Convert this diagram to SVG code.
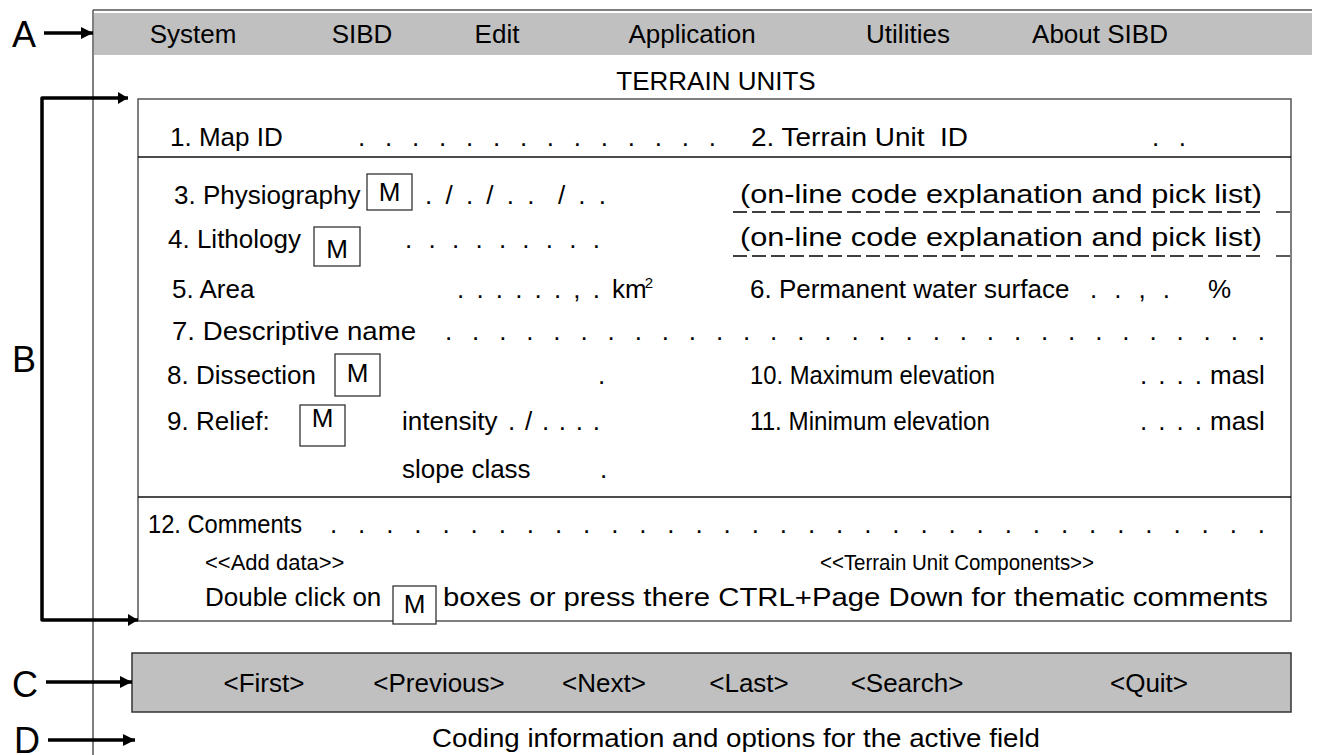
<svg xmlns="http://www.w3.org/2000/svg" width="1317" height="755" viewBox="0 0 1317 755">
  <style>
    .t { font-family: "Liberation Sans", Arial, sans-serif; font-size: 26px; fill: #000; white-space: pre; }
    .sm { font-size: 22px; }
    .lbl { font-family: "Liberation Sans", Arial, sans-serif; font-size: 36px; fill: #000; }
    .mid { text-anchor: middle; }
    .bar { fill: #c0c0c0; }
    .frame { fill: none; stroke: #555; stroke-width: 1.5; }
    .sep { stroke: #111; stroke-width: 1.5; }
    .mbox { fill: #fff; stroke: #333; stroke-width: 1.3; }
    .ptr { fill: none; stroke: #000; stroke-width: 3.5; stroke-linejoin: round; }
    .dash { stroke: #000; stroke-width: 1.3; stroke-dasharray: 14 5; }
  </style>
  <defs>
    <marker id="ah" viewBox="0 0 12 12" refX="12" refY="6" markerWidth="12" markerHeight="12" markerUnits="userSpaceOnUse" orient="auto">
      <path d="M0,0 L12,6 L0,12 z" fill="#000"/>
    </marker>
    <marker id="ahs" viewBox="0 0 10 12" refX="10" refY="6" markerWidth="10" markerHeight="12" markerUnits="userSpaceOnUse" orient="auto">
      <path d="M0,0 L10,6 L0,12 z" fill="#000"/>
    </marker>
  </defs>

  <!-- window frame: left edge and top rule -->
  <g id="window">
    <line x1="93" y1="10" x2="93" y2="755" stroke="#000" stroke-width="1"/>
    <line x1="93" y1="10" x2="1312" y2="10" stroke="#555" stroke-width="1.5"/>
  </g>

  <!-- menu bar -->
  <g id="menu">
    <rect class="bar" x="94" y="13" width="1218" height="42"/>
    <text class="t mid" x="193" y="43">System</text>
    <text class="t mid" x="362" y="43">SIBD</text>
    <text class="t mid" x="497" y="43">Edit</text>
    <text class="t mid" x="692" y="43">Application</text>
    <text class="t mid" x="908" y="43">Utilities</text>
    <text class="t mid" x="1100" y="43">About SIBD</text>
  </g>

  <g id="title">
    <text class="t mid" x="716" y="90">TERRAIN UNITS</text>
  </g>

  <!-- data entry form -->
  <g id="form">
    <rect class="frame" x="138" y="99" width="1153" height="522"/>
    <line class="sep" x1="138" y1="157" x2="1291" y2="157"/>
    <line class="sep" x1="138" y1="497" x2="1291" y2="497"/>

    <text class="t" x="170" y="146">1. Map ID</text>
    <text class="t" x="358" y="146" textLength="358" lengthAdjust="spacing">. . . . . . . . . . . . . .</text>
    <text class="t" x="751" y="146" textLength="217" lengthAdjust="spacingAndGlyphs">2. Terrain Unit  ID</text>
    <text class="t" x="1152" y="146" textLength="34" lengthAdjust="spacing">. .</text>

    <text class="t" x="174" y="204">3. Physiography</text>
    <rect class="mbox" x="367" y="174" width="45" height="36"/>
    <text class="t mid" x="389.5" y="201">M</text>
    <text class="t" x="425" y="204" textLength="181" lengthAdjust="spacing">. / . / . .  / . .</text>
    <text class="t" x="740" y="203" textLength="522" lengthAdjust="spacingAndGlyphs">(on-line code explanation and pick list)</text>
    <line class="dash" x1="733" y1="212" x2="1262" y2="212"/>
    <line class="dash" x1="1276" y1="212" x2="1290" y2="212"/>

    <text class="t" x="168" y="248">4. Lithology</text>
    <rect class="mbox" x="314" y="227" width="46" height="39"/>
    <text class="t mid" x="337" y="258">M</text>
    <text class="t" x="405" y="248" textLength="195" lengthAdjust="spacing">. . . . . . . . .</text>
    <text class="t" x="740" y="246" textLength="522" lengthAdjust="spacingAndGlyphs">(on-line code explanation and pick list)</text>
    <line class="dash" x1="733" y1="256" x2="1262" y2="256"/>
    <line class="dash" x1="1276" y1="256" x2="1290" y2="256"/>

    <text class="t" x="172" y="298">5. Area</text>
    <text class="t" x="457" y="298" textLength="143" lengthAdjust="spacing">. . . . . . , .</text>
    <text class="t" x="612" y="298">km<tspan dx="-2" dy="-10" font-size="15">2</tspan></text>
    <text class="t" x="750" y="298">6. Permanent water surface</text>
    <text class="t" x="1090" y="298" textLength="80" lengthAdjust="spacing">. . , .</text>
    <text class="t" x="1208" y="298">%</text>

    <text class="t" x="172" y="340" textLength="244" lengthAdjust="spacingAndGlyphs">7. Descriptive name</text>
    <text class="t" x="445" y="340" textLength="820" lengthAdjust="spacing">. . . . . . . . . . . . . . . . . . . . . . . . . . . . . . .</text>

    <text class="t" x="167" y="384">8. Dissection</text>
    <rect class="mbox" x="335" y="354" width="45" height="42"/>
    <text class="t mid" x="357.5" y="382">M</text>
    <text class="t" x="598" y="384">.</text>
    <text class="t" x="750" y="384" textLength="245" lengthAdjust="spacingAndGlyphs">10. Maximum elevation</text>
    <text class="t" x="1140" y="384" textLength="62" lengthAdjust="spacing">. . . .</text>
    <text class="t" x="1210" y="384">masl</text>

    <text class="t" x="167" y="430">9. Relief:</text>
    <rect class="mbox" x="300" y="405" width="45" height="41"/>
    <text class="t mid" x="322.5" y="427">M</text>
    <text class="t" x="402" y="430">intensity</text>
    <text class="t" x="508" y="430" textLength="92" lengthAdjust="spacing">. / . . . .</text>
    <text class="t" x="750" y="430" textLength="240" lengthAdjust="spacingAndGlyphs">11. Minimum elevation</text>
    <text class="t" x="1140" y="430" textLength="62" lengthAdjust="spacing">. . . .</text>
    <text class="t" x="1210" y="430">masl</text>

    <text class="t" x="402" y="478">slope class</text>
    <text class="t" x="600" y="478">.</text>

    <text class="t" x="148" y="533" textLength="154" lengthAdjust="spacingAndGlyphs">12. Comments</text>
    <text class="t" x="330" y="533" textLength="935" lengthAdjust="spacing">. . . . . . . . . . . . . . . . . . . . . . . . . . . . . . . . . .</text>

    <text class="t sm" x="205" y="570">&lt;&lt;Add data&gt;&gt;</text>
    <text class="t sm" x="820" y="570" textLength="274" lengthAdjust="spacingAndGlyphs">&lt;&lt;Terrain Unit Components&gt;&gt;</text>

    <text class="t" x="205" y="606">Double click on</text>
    <rect class="mbox" x="393" y="586" width="43" height="38"/>
    <text class="t mid" x="414.5" y="613">M</text>
    <text class="t" x="443" y="606" textLength="825" lengthAdjust="spacingAndGlyphs">boxes or press there CTRL+Page Down for thematic comments</text>
  </g>

  <!-- navigation bar -->
  <g id="navbar">
    <rect x="132" y="653" width="1159" height="59" fill="#c0c0c0" stroke="#333" stroke-width="1.5"/>
    <text class="t mid" x="264" y="692">&lt;First&gt;</text>
    <text class="t mid" x="439" y="692">&lt;Previous&gt;</text>
    <text class="t mid" x="604" y="692">&lt;Next&gt;</text>
    <text class="t mid" x="749" y="692">&lt;Last&gt;</text>
    <text class="t mid" x="907" y="692">&lt;Search&gt;</text>
    <text class="t mid" x="1149" y="692">&lt;Quit&gt;</text>
  </g>

  <!-- status line -->
  <g id="status">
    <text class="t" x="432" y="747" textLength="608" lengthAdjust="spacingAndGlyphs">Coding information and options for the active field</text>
  </g>

  <!-- region labels -->
  <g id="label-A"><text class="lbl" x="12" y="47">A</text></g>
  <g id="label-B"><text class="lbl" x="12" y="372">B</text></g>
  <g id="label-C"><text class="lbl" x="12" y="697">C</text></g>
  <g id="label-D"><text class="lbl" x="14" y="753">D</text></g>

  <!-- pointers -->
  <g id="connectors">
    <line class="ptr" x1="44" y1="33" x2="93" y2="33" marker-end="url(#ah)"/>
    <path class="ptr" d="M42,359 V98 H128" marker-end="url(#ahs)"/>
    <path class="ptr" d="M42,359 V620 H138" marker-end="url(#ahs)"/>
    <line class="ptr" x1="46" y1="682" x2="132" y2="682" marker-end="url(#ah)"/>
    <line class="ptr" x1="48" y1="740" x2="135" y2="740" marker-end="url(#ah)"/>
  </g>
</svg>
